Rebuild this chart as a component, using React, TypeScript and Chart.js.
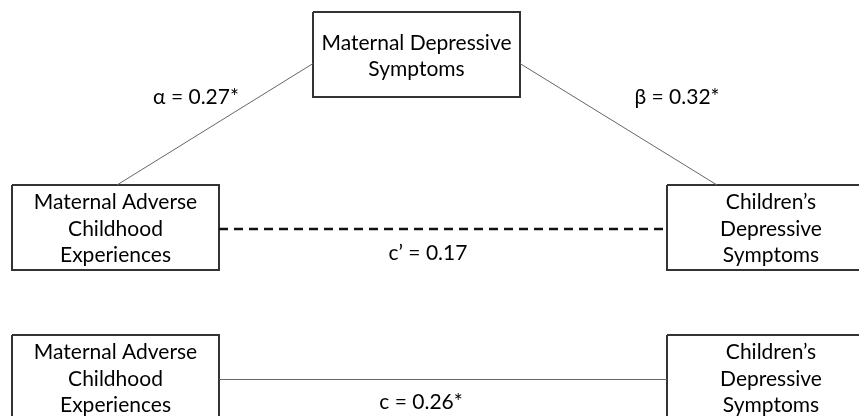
import React, { useEffect, useRef } from "react";
import { Chart, registerables } from "chart.js";

Chart.register(...registerables);

// ---- data ----
const nodeNames: string[][] = [
  ["Maternal Depressive", "Symptoms"],
  ["Maternal Adverse", "Childhood", "Experiences"],
  ["Children’s", "Depressive", "Symptoms"],
  ["Maternal Adverse", "Childhood", "Experiences"],
  ["Children’s", "Depressive", "Symptoms"],
];
const pathSymbols = ["α", "β", "c’", "c"];
const pathCoefficients = [0.27, 0.32, 0.17, 0.26];
const pathSignificant = [true, true, false, true];

// ---- layout (canvas units) ----
const W = 859;
const H = 416;
const boxes = [
  { x1: 313, x2: 520, y1: 12, y2: 97 },
  { x1: 12, x2: 219, y1: 185, y2: 270 },
  { x1: 667, x2: 875, y1: 185, y2: 270 },
  { x1: 12, x2: 219, y1: 335, y2: 420 },
  { x1: 667, x2: 875, y1: 335, y2: 420 },
];
const edges = [
  { from: [313, 63.5], to: [117, 185], dashed: false },
  { from: [520, 63.5], to: [717, 185], dashed: false },
  { from: [219, 229], to: [667, 229], dashed: true },
  { from: [219, 379.5], to: [667, 379.5], dashed: false },
];
const labelPos = [
  [196, 97],
  [677, 97],
  [428, 253],
  [421, 402],
];

const FONT = "21px Lato, 'Open Sans', sans-serif";
const LINE_H = 26.5;

const pathLabels = pathSymbols.map(
  (s, i) => `${s} = ${pathCoefficients[i].toFixed(2)}${pathSignificant[i] ? "*" : ""}`
);

const textPlugin = {
  id: "diagramText",
  afterDatasetsDraw(chart: any) {
    const { ctx, scales } = chart;
    const xs = scales.x;
    const ys = scales.y;
    ctx.save();
    ctx.fillStyle = "#000";
    ctx.font = FONT;
    ctx.textAlign = "center";
    ctx.textBaseline = "middle";
    boxes.forEach((b, i) => {
      const lines = nodeNames[i];
      const cx = (b.x1 + b.x2) / 2;
      const cy = (b.y1 + b.y2) / 2 + 1.5;
      lines.forEach((t, j) => {
        const y = cy + (j - (lines.length - 1) / 2) * LINE_H;
        ctx.fillText(t, xs.getPixelForValue(cx), ys.getPixelForValue(y));
      });
    });
    pathLabels.forEach((t, i) => {
      ctx.fillText(t, xs.getPixelForValue(labelPos[i][0]), ys.getPixelForValue(labelPos[i][1]));
    });
    ctx.restore();
  },
};

export default function App() {
  const ref = useRef<HTMLCanvasElement | null>(null);

  useEffect(() => {
    if (!ref.current) return;
    const boxSets = boxes.map((b) => ({
      data: [
        { x: b.x1, y: b.y1 },
        { x: b.x2, y: b.y1 },
        { x: b.x2, y: b.y2 },
        { x: b.x1, y: b.y2 },
        { x: b.x1, y: b.y1 },
      ],
      showLine: true,
      borderColor: "#333",
      borderWidth: 2,
      pointRadius: 0,
      fill: false,
      tension: 0,
    }));
    const edgeSets = edges.map((e) => ({
      data: [
        { x: e.from[0], y: e.from[1] },
        { x: e.to[0], y: e.to[1] },
      ],
      showLine: true,
      borderColor: e.dashed ? "#111" : "#666",
      borderWidth: e.dashed ? 2.5 : 1,
      borderDash: e.dashed ? [9, 6] : [],
      pointRadius: 0,
      fill: false,
      tension: 0,
    }));
    const chart = new Chart(ref.current, {
      type: "scatter",
      data: { datasets: [...edgeSets, ...boxSets] as any },
      options: {
        animation: false,
        responsive: false,
        maintainAspectRatio: false,
        layout: { padding: 0 },
        plugins: { legend: { display: false }, tooltip: { enabled: false } },
        events: [],
        scales: {
          x: { type: "linear", min: 0, max: W, display: false },
          y: { type: "linear", min: 0, max: H, reverse: true, display: false },
        },
      },
      plugins: [textPlugin],
    });
    return () => chart.destroy();
  }, []);

  return (
    <div style={{ position: "fixed", left: 0, top: 0, width: W, height: H, background: "#fff" }}>
      <canvas ref={ref} width={W} height={H} style={{ display: "block", width: W, height: H }} />
    </div>
  );
}
